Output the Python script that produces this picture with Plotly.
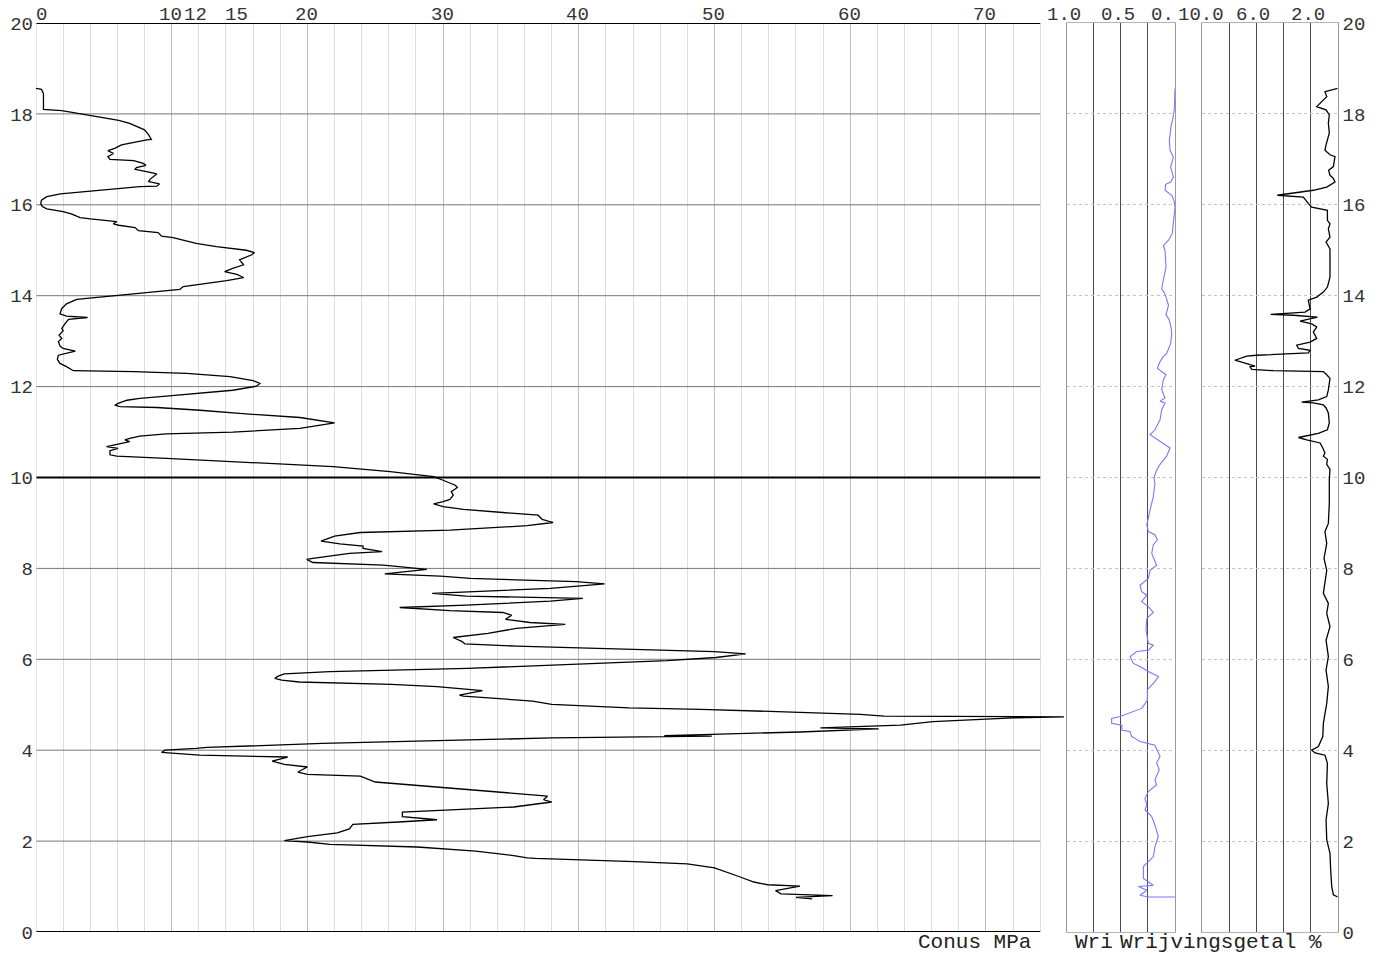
import plotly.graph_objects as go

# ---------------- data ----------------
# Cone resistance (Conus, MPa) versus level
QC_DEPTH = [18.56, 18.54, 18.45, 18.30, 18.16, 18.10, 18.07, 17.97, 17.92, 17.86, 17.79, 17.72, 17.65, 17.54, 17.44,
            17.43, 17.32, 17.24, 17.19, 17.13, 17.06, 17.00, 16.97, 16.91, 16.87, 16.82, 16.78, 16.73, 16.68, 16.56,
            16.51, 16.46, 16.41, 16.40, 16.35, 16.29, 16.24, 16.18, 16.10, 16.02, 15.96, 15.91, 15.87, 15.85, 15.80,
            15.72, 15.69, 15.66, 15.63, 15.58, 15.55, 15.50, 15.43, 15.39, 15.31, 15.28, 15.23, 15.15, 15.08, 15.04,
            15.00, 14.95, 14.90, 14.79, 14.68, 14.60, 14.53, 14.47, 14.40, 14.33, 14.26, 14.20, 14.14, 14.07, 14.02,
            13.96, 13.92, 13.82, 13.72, 13.60, 13.55, 13.52, 13.48, 13.39, 13.28, 13.23, 13.13, 13.06, 12.99, 12.89,
            12.84, 12.78, 12.73, 12.69, 12.60, 12.51, 12.44, 12.38, 12.35, 12.33, 12.29, 12.22, 12.13, 12.07, 12.01,
            11.92, 11.85, 11.79, 11.74, 11.70, 11.63, 11.59, 11.56, 11.54, 11.48, 11.41, 11.32, 11.20, 11.08, 11.00,
            10.96, 10.91, 10.86, 10.83, 10.79, 10.68, 10.64, 10.59, 10.50, 10.47, 10.42, 10.35, 10.27, 10.24, 10.13,
            10.02, 9.94, 9.83, 9.78, 9.69, 9.61, 9.52, 9.47, 9.42, 9.36, 9.30, 9.23, 9.17, 9.08, 9.05,
            9.01, 8.94, 8.84, 8.79, 8.71, 8.60, 8.54, 8.49, 8.44, 8.37, 8.33, 8.22, 8.20, 8.13, 8.07,
            7.98, 7.88, 7.83, 7.78, 7.71, 7.66, 7.56, 7.52, 7.45, 7.39, 7.34, 7.28, 7.19, 7.14, 7.07,
            7.03, 6.97, 6.88, 6.81, 6.77, 6.68, 6.57, 6.48, 6.39, 6.34, 6.29, 6.22, 6.17, 6.12, 6.04,
            5.97, 5.87, 5.80, 5.73, 5.68, 5.63, 5.58, 5.54, 5.50, 5.45, 5.40, 5.31, 5.21, 5.19, 5.14,
            5.08, 5.01, 4.93, 4.90, 4.83, 4.79, 4.75, 4.74, 4.735, 4.71, 4.63, 4.55, 4.49, 4.47, 4.40,
            4.35, 4.32, 4.31, 4.28, 4.27, 4.21, 4.15, 4.06, 4.04, 4.00, 3.95, 3.89, 3.85, 3.76, 3.69,
            3.63, 3.52, 3.47, 3.43, 3.30, 3.23, 3.17, 3.04, 2.99, 2.91, 2.86, 2.75, 2.68, 2.64, 2.54,
            2.47, 2.42, 2.37, 2.27, 2.18, 2.10, 2.01, 1.98, 1.93, 1.87, 1.78, 1.68, 1.63, 1.62, 1.58,
            1.55, 1.50, 1.41, 1.21, 1.10, 1.04, 1.01, 0.91, 0.84, 0.80, 0.76, 0.73]
QC_VALUE = [0.0, 0.4, 0.55, 0.55, 0.6, 0.55, 1.9, 3.85, 4.7, 6.1, 6.9, 7.4, 8.0, 8.3, 8.5,
            8.15, 6.3, 5.8, 5.3, 5.7, 5.3, 5.45, 7.2, 7.9, 8.1, 7.4, 7.3, 8.15, 8.9, 8.4,
            8.3, 9.1, 8.9, 7.65, 5.95, 3.7, 1.8, 0.8, 0.4, 0.35, 0.46, 0.8, 1.8, 2.0, 2.6,
            3.25, 4.0, 5.3, 5.95, 5.7, 6.1, 7.3, 7.55, 9.0, 9.25, 10.1, 10.75, 11.8, 13.3, 14.5,
            15.5, 16.1, 15.9, 15.0, 15.3, 14.5, 13.9, 14.8, 15.3, 14.05, 12.1, 10.85, 10.6, 8.15, 5.95,
            4.0, 3.0, 2.25, 1.9, 1.77, 2.25, 3.8, 2.4, 2.15, 1.9, 2.0, 1.7, 1.9, 1.65, 1.77,
            2.0, 2.9, 2.25, 1.65, 1.57, 1.77, 2.25, 2.6, 2.75, 7.2, 11.1, 14.3, 16.0, 16.5, 16.25,
            14.5, 12.1, 9.6, 7.65, 6.7, 6.05, 5.8, 6.2, 8.9, 12.1, 15.0, 19.45, 22.0, 19.45, 14.5,
            9.6, 7.65, 6.9, 6.55, 6.9, 5.2, 6.05, 5.45, 5.45, 5.95, 9.6, 14.5, 19.45, 21.9, 26.1,
            29.3, 30.0, 30.9, 31.05, 30.6, 30.75, 30.5, 30.0, 29.3, 30.0, 31.5, 34.4, 37.0, 37.3, 37.6,
            38.1, 36.2, 30.5, 23.9, 22.0, 21.0, 22.4, 24.1, 24.1, 25.5, 23.1, 20.4, 19.95, 20.4, 25.6,
            28.8, 25.7, 29.8, 32.0, 39.8, 41.9, 37.9, 34.2, 29.2, 31.7, 40.3, 37.9, 31.7, 26.8, 30.5,
            34.4, 35.05, 34.6, 36.4, 39.0, 35.4, 33.3, 30.75, 31.4, 31.6, 35.4, 43.8, 50.0, 52.3, 50.1,
            46.5, 38.0, 31.8, 21.65, 18.3, 17.85, 17.6, 18.1, 19.4, 26.2, 29.55, 32.9, 31.2, 31.5, 33.8,
            36.6, 38.0, 43.7, 49.0, 55.8, 60.75, 62.5, 72.0, 75.75, 72.0, 66.1, 63.7, 57.8, 62.1, 56.3,
            49.8, 46.3, 49.8, 41.6, 38.0, 29.6, 21.1, 12.6, 11.8, 9.5, 9.25, 12.06, 18.55, 17.4, 18.3,
            20.0, 19.3, 20.0, 23.9, 25.0, 27.9, 30.1, 35.2, 37.7, 37.4, 38.0, 35.2, 29.55, 27.0, 27.0,
            29.55, 26.7, 23.35, 23.1, 22.2, 20.0, 18.3, 20.0, 21.65, 28.1, 32.4, 35.2, 36.2, 36.8, 41.6,
            44.1, 48.0, 50.0, 51.9, 52.9, 53.9, 56.3, 54.5, 54.9, 58.7, 56.0, 57.2]

# Sleeve friction (Wrijving) versus level
FS_DEPTH = [18.56, 18.45, 18.09, 17.90, 17.72, 17.42, 17.20, 17.05, 16.83, 16.61, 16.50, 16.45, 16.32, 16.21, 16.10,
            15.95, 15.66, 15.37, 15.22, 15.10, 14.99, 14.63, 14.34, 14.15, 14.04, 13.90, 13.79, 13.59, 13.46, 13.31,
            13.17, 12.95, 12.73, 12.66, 12.55, 12.40, 12.33, 12.26, 12.15, 11.93, 11.75, 11.68, 11.64, 11.49, 11.27,
            11.05, 10.94, 10.87, 10.76, 10.65, 10.47, 10.29, 10.16, 10.00, 9.87, 9.58, 9.29, 8.96, 8.81, 8.74,
            8.63, 8.52, 8.33, 8.07, 7.96, 7.78, 7.63, 7.49, 7.41, 7.27, 7.16, 7.03, 6.90, 6.65, 6.35,
            6.31, 6.20, 6.17, 6.06, 5.91, 5.84, 5.73, 5.62, 5.51, 5.33, 5.10, 4.92, 4.81, 4.74, 4.70,
            4.59, 4.55, 4.44, 4.41, 4.30, 4.26, 4.19, 4.11, 4.04, 3.86, 3.72, 3.57, 3.35, 3.24, 3.09,
            2.94, 2.80, 2.69, 2.54, 2.35, 2.10, 1.88, 1.66, 1.51, 1.44, 1.18, 1.03, 1.00, 0.92, 0.81,
            0.77, 0.77]
FS_VALUE = [0.0, 0.0, 0.006, 0.02, 0.037, 0.052, 0.046, 0.015, 0.04, 0.015, 0.04, 0.086, 0.092, 0.03, 0.01,
            0.0, 0.015, 0.025, 0.06, 0.108, 0.092, 0.083, 0.108, 0.123, 0.092, 0.077, 0.06, 0.083, 0.052, 0.037,
            0.03, 0.04, 0.077, 0.108, 0.138, 0.163, 0.123, 0.083, 0.108, 0.123, 0.092, 0.138, 0.092, 0.123, 0.138,
            0.185, 0.23, 0.185, 0.108, 0.046, 0.077, 0.138, 0.17, 0.194, 0.185, 0.2, 0.23, 0.26, 0.246, 0.185,
            0.163, 0.2, 0.215, 0.17, 0.23, 0.246, 0.323, 0.308, 0.26, 0.308, 0.246, 0.2, 0.26, 0.268, 0.246,
            0.2, 0.246, 0.354, 0.415, 0.385, 0.323, 0.246, 0.154, 0.185, 0.255, 0.255, 0.308, 0.43, 0.508, 0.585,
            0.585, 0.49, 0.49, 0.415, 0.4, 0.37, 0.323, 0.185, 0.17, 0.138, 0.17, 0.145, 0.185, 0.17, 0.246,
            0.277, 0.26, 0.277, 0.215, 0.185, 0.154, 0.185, 0.2, 0.26, 0.292, 0.292, 0.2, 0.338, 0.26, 0.323,
            0.246, 0.0]

# Friction ratio (Wrijvingsgetal, %) versus level
RF_DEPTH = [18.56, 18.52, 18.49, 18.38, 18.20, 18.16, 18.09, 17.98, 17.80, 17.58, 17.32, 17.20, 17.10, 17.06, 16.84,
            16.76, 16.65, 16.58, 16.50, 16.39, 16.32, 16.25, 16.21, 16.17, 16.06, 16.03, 15.95, 15.89, 15.88, 15.66,
            15.58, 15.47, 15.29, 15.18, 15.03, 14.41, 14.19, 14.08, 13.97, 13.90, 13.71, 13.64, 13.59, 13.57, 13.53,
            13.44, 13.38, 13.31, 13.20, 13.06, 12.98, 12.91, 12.84, 12.80, 12.74, 12.69, 12.67, 12.58, 12.55, 12.49,
            12.45, 12.44, 12.38, 12.35, 12.33, 12.26, 12.18, 11.93, 11.78, 11.71, 11.66, 11.64, 11.60, 11.53, 11.42,
            11.20, 11.05, 10.97, 10.88, 10.83, 10.76, 10.65, 10.54, 10.47, 10.40, 10.29, 10.18, 9.96, 9.43, 8.99,
            8.81, 8.55, 8.22, 7.96, 7.74, 7.45, 7.23, 7.01, 6.72, 6.42, 6.06, 5.76, 5.40, 5.03, 4.59,
            4.30, 4.08, 4.00, 3.94, 3.89, 3.71, 3.27, 2.83, 2.47, 2.03, 1.73, 1.37, 1.00, 0.82, 0.77]
RF_VALUE = [0.0, 0.69, 0.94, 0.81, 1.43, 1.55, 0.86, 0.62, 0.69, 0.62, 0.86, 0.94, 0.57, 0.2, 0.32,
            0.67, 0.57, 0.32, 0.2, 0.81, 1.8, 3.52, 4.46, 2.54, 2.29, 2.17, 1.92, 0.94, 0.76, 0.76,
            0.57, 0.69, 0.57, 0.86, 0.57, 0.57, 0.76, 1.06, 1.55, 2.17, 2.04, 2.41, 4.95, 3.28, 1.5,
            2.78, 1.92, 1.55, 1.8, 1.55, 2.04, 3.03, 2.9, 2.04, 2.17, 6.0, 6.72, 7.59, 7.2, 6.48,
            6.1, 6.48, 6.35, 4.75, 1.06, 0.81, 0.57, 0.69, 0.81, 1.43, 2.66, 1.8, 1.06, 0.86, 0.69,
            0.62, 0.76, 1.43, 2.9, 2.29, 1.3, 1.1, 0.94, 1.06, 0.76, 0.81, 0.57, 0.62, 0.62, 0.69,
            0.94, 0.81, 1.01, 0.81, 0.94, 1.06, 0.69, 0.81, 0.57, 0.86, 0.69, 0.86, 0.69, 0.81, 1.06,
            1.1, 1.43, 1.92, 1.67, 0.94, 0.76, 0.81, 0.69, 0.86, 0.81, 0.57, 0.52, 0.44, 0.32, 0.0]

# Axis ticks / labels
DEPTH_TICKS = list(range(0, 21, 2))
QC_LABEL_TICKS = [0, 10, 12, 15, 20, 30, 40, 50, 60, 70]
QC_MAJOR_GRID = [0, 10, 20, 30, 40, 50, 60, 70]
FS_TICKS = [1.0, 0.75, 0.5, 0.25, 0.0]
FS_LABELS = [(1.0, "1.0"), (0.5, "0.5"), (0.0, "0.")]
RF_TICKS = [10, 8, 6, 4, 2, 0]
RF_LABELS = [(10, "10.0"), (6, "6.0"), (2, "2.0")]

# ---------------- layout helpers ----------------
W, H = 1381, 955
def fx(p):
    return p / W
def fy(p):
    return 1 - p / H

Y_DOM = [fy(932), fy(23)]
MONO = "Liberation Mono, Courier New, monospace"
TICKFONT = dict(family=MONO, size=19, color="#333333")
TITLEFONT = dict(family=MONO, size=21, color="#222222")

fig = go.Figure()
fig.add_trace(go.Scatter(x=QC_VALUE, y=QC_DEPTH, mode="lines", xaxis="x", yaxis="y",
                         line=dict(color="black", width=1.3), hoverinfo="skip", showlegend=False))
fig.add_trace(go.Scatter(x=FS_VALUE, y=FS_DEPTH, mode="lines", xaxis="x2", yaxis="y2",
                         line=dict(color="#7878ff", width=1.1), hoverinfo="skip", showlegend=False))
fig.add_trace(go.Scatter(x=RF_VALUE, y=RF_DEPTH, mode="lines", xaxis="x3", yaxis="y3",
                         line=dict(color="black", width=1.3), hoverinfo="skip", showlegend=False))

shapes = []
for d in DEPTH_TICKS:
    strong = d in (0, 10, 20)
    shapes.append(dict(type="line", xref="x", yref="y", x0=0, x1=74, y0=d, y1=d,
                       line=dict(color="black" if strong else "#777777", width=2 if strong else 1),
                       layer="between"))
# left edge of the cone panel (light grid line at 0)
shapes.append(dict(type="line", xref="x", yref="y", x0=0, x1=0, y0=0, y1=20,
                   line=dict(color="#cfcfcf", width=1), layer="between"))

annotations = []
# top labels of the cone-resistance panel
for v in QC_LABEL_TICKS:
    shift = {0: 5, 12: -3, 15: -3}.get(v, -1)
    annotations.append(dict(text=str(v), xref="x", yref="paper", x=v, y=fy(15), xshift=shift,
                            xanchor="center", yanchor="middle", showarrow=False, font=TICKFONT))
# top labels of the friction panel
for v, t in FS_LABELS:
    if t == "0.":
        annotations.append(dict(text=t, xref="x2", yref="paper", x=v, y=fy(15), xshift=1,
                                xanchor="right", yanchor="middle", showarrow=False, font=TICKFONT))
    else:
        annotations.append(dict(text=t, xref="x2", yref="paper", x=v, y=fy(15), xshift=-3,
                                xanchor="center", yanchor="middle", showarrow=False, font=TICKFONT))
# top labels of the friction-ratio panel
for v, t in RF_LABELS:
    if t == "10.0":
        annotations.append(dict(text=t, xref="x3", yref="paper", x=v, y=fy(15), xshift=-26,
                                xanchor="left", yanchor="middle", showarrow=False, font=TICKFONT))
    else:
        annotations.append(dict(text=t, xref="x3", yref="paper", x=v, y=fy(15), xshift=-3,
                                xanchor="center", yanchor="middle", showarrow=False, font=TICKFONT))
annotations += [
    dict(text="Conus MPa", xref="paper", yref="paper", x=fx(1033), y=fy(942),
         xanchor="right", yanchor="middle", showarrow=False, font=TITLEFONT),
    dict(text="Wri", xref="paper", yref="paper", x=fx(1073), y=fy(942),
         xanchor="left", yanchor="middle", showarrow=False, font=TITLEFONT),
    dict(text="Wrijvingsgetal %", xref="paper", yref="paper", x=fx(1118), y=fy(942),
         xanchor="left", yanchor="middle", showarrow=False, font=TITLEFONT),
]

fig.update_layout(
    width=W, height=H,
    margin=dict(l=0, r=0, t=0, b=0, pad=0, autoexpand=False),
    paper_bgcolor="white", plot_bgcolor="white",
    showlegend=False,
    xaxis=dict(domain=[fx(36), fx(1064.6)], range=[0, 75.8], anchor="y", automargin=False,
               tickvals=QC_MAJOR_GRID, showticklabels=False, ticks="",
               showgrid=True, gridcolor="#bdbdbd", gridwidth=1,
               minor=dict(dtick=2, tick0=0, showgrid=True, gridcolor="#dedede", gridwidth=1),
               zeroline=False, showline=False, fixedrange=True),
    yaxis=dict(domain=Y_DOM, range=[0, 20], anchor="x", tickvals=DEPTH_TICKS, automargin=False,
               tickfont=TICKFONT, ticks="", showgrid=False, zeroline=False, showline=False,
               ticklabelstandoff=2),
    xaxis2=dict(domain=[fx(1066.7), fx(1175)], range=[1.0, 0.0], anchor="y2", side="top",
                automargin=False, tickvals=FS_TICKS, showticklabels=False, ticks="",
                showgrid=True, gridcolor="#4a4a4a", gridwidth=1,
                showline=True, linecolor="#b4b4b4", linewidth=1, mirror=True, zeroline=False),
    yaxis2=dict(domain=Y_DOM, range=[0, 20], anchor="x2", tickvals=DEPTH_TICKS, automargin=False,
                showticklabels=False, ticks="", showgrid=True, gridcolor="#c4c4c4",
                griddash="dot", zeroline=False,
                showline=True, linecolor="#9a9a9a", linewidth=1, mirror=True),
    xaxis3=dict(domain=[fx(1202.3), fx(1337.7)], range=[10, 0], anchor="y3", side="top",
                automargin=False, tickvals=RF_TICKS, showticklabels=False, ticks="",
                showgrid=True, gridcolor="#4a4a4a", gridwidth=1,
                showline=True, linecolor="#b4b4b4", linewidth=1, mirror=True, zeroline=False),
    yaxis3=dict(domain=Y_DOM, range=[0, 20], anchor="x3", side="right", tickvals=DEPTH_TICKS,
                automargin=False, tickfont=TICKFONT, ticks="", showgrid=True, gridcolor="#c4c4c4",
                griddash="dot", zeroline=False,
                showline=True, linecolor="#9a9a9a", linewidth=1, mirror=True),
    shapes=shapes,
    annotations=annotations,
)

fig.write_html("out.html", config={"displayModeBar": False, "responsive": False},
               post_script="document.body.style.margin='0';")
